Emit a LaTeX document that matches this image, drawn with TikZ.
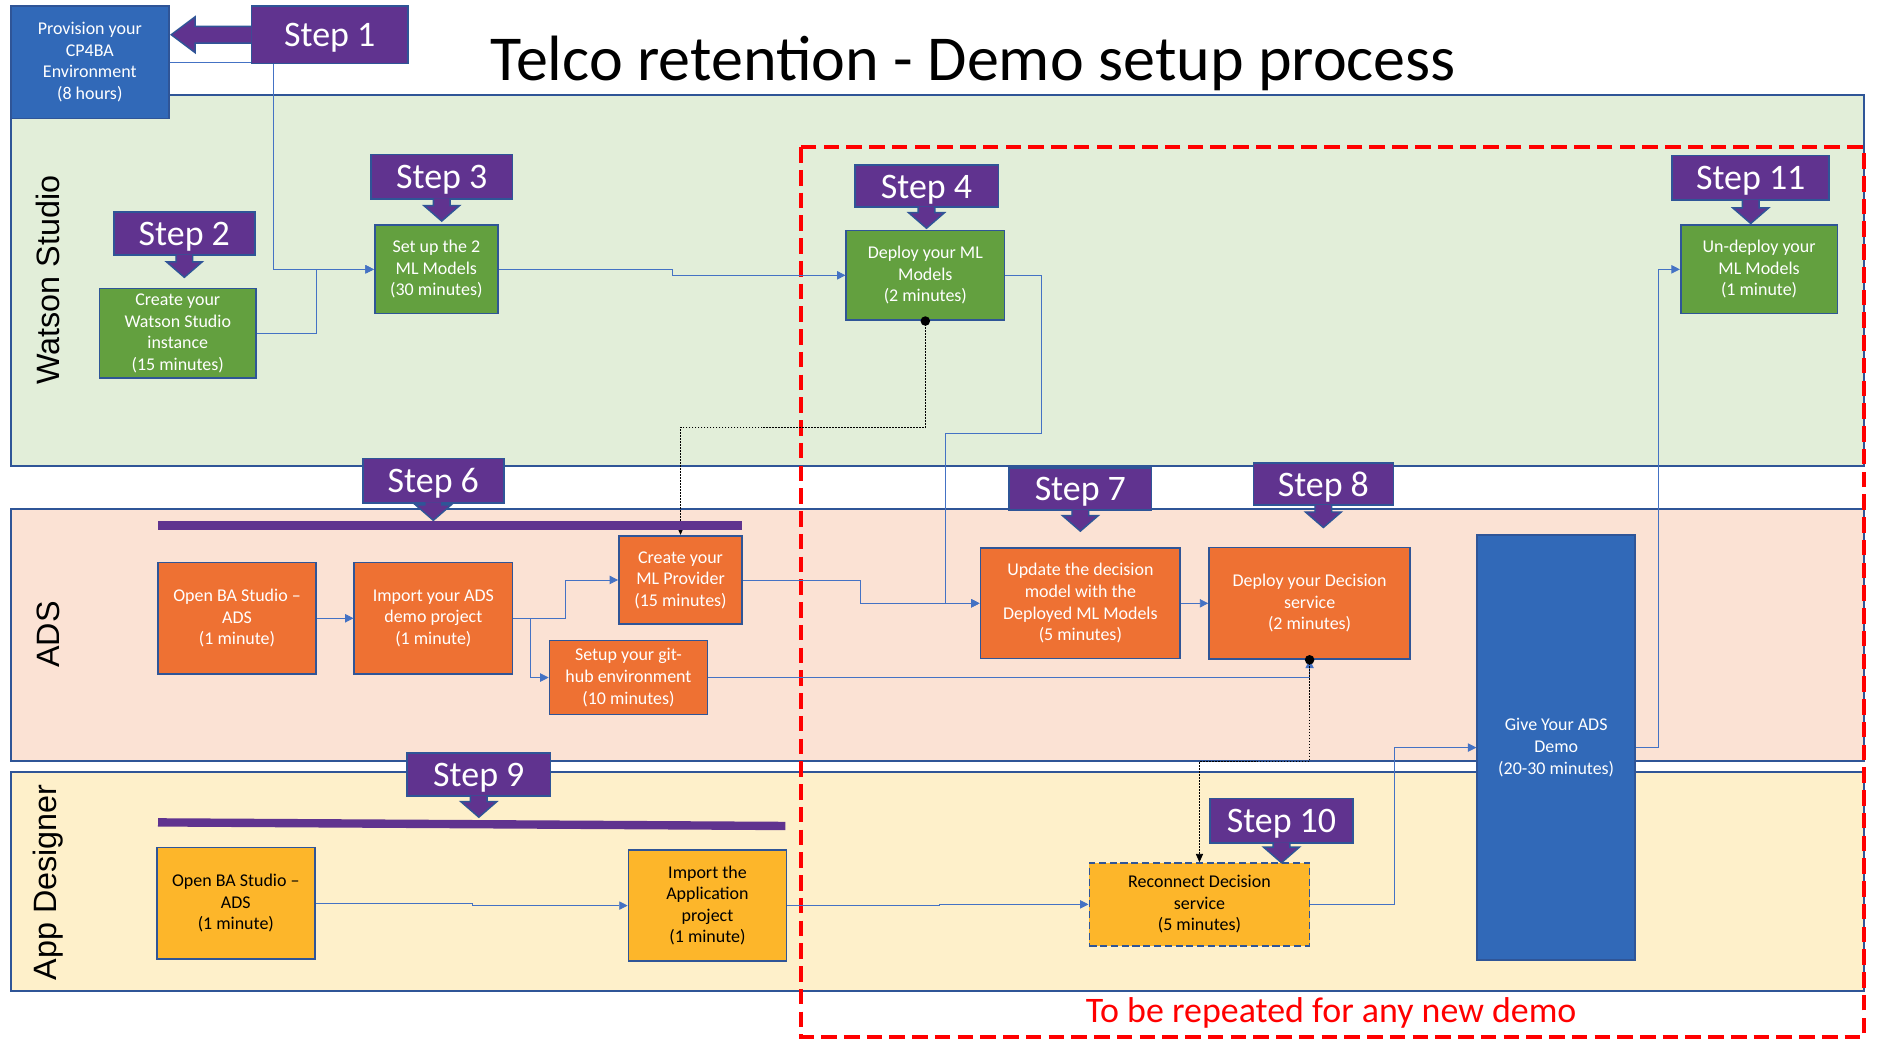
\documentclass[tikz,border=0pt]{standalone}
\usepackage{fontspec}
\setmainfont{Carlito}
\newfontfamily\lanefont{Liberation Sans}
\usetikzlibrary{arrows.meta,calc}
\definecolor{bord}{HTML}{2F5597}
\definecolor{purp}{HTML}{60338F}
\definecolor{gfill}{HTML}{63A03F}
\definecolor{ofill}{HTML}{EE7133}
\definecolor{yfill}{HTML}{FDB62A}
\definecolor{bfill}{HTML}{3169B8}
\definecolor{lgreen}{HTML}{E2EED9}
\definecolor{lpeach}{HTML}{FBE2D4}
\definecolor{lyellow}{HTML}{FEF0CA}
\definecolor{cblue}{HTML}{4472C4}
\definecolor{rred}{HTML}{FF0000}
\newcommand{\stepdn}[2]{%
  \draw[steparr] ($(#1.south)+(-7,-1)$) -- ++(0,{#2-13}) -- ++(-8,0) -- ++(15,13) -- ++(15,-13) -- ++(-8,0) -- ++(0,{-(#2-13)});}
\begin{document}
\begin{tikzpicture}[x=1pt,y=-1pt,
  lane/.style={draw=bord, line width=1.6pt},
  lanelabel/.style={font=\lanefont\fontsize{27}{27}\selectfont, rotate=90, inner sep=0pt},
  box/.style={draw=bord, line width=1.4pt, align=center, inner sep=2pt, font=\fontsize{15}{18}\selectfont},
  gbox/.style={box, fill=gfill, text=white},
  obox/.style={box, fill=ofill, text=white},
  ybox/.style={box, fill=yfill, text=black},
  bbox/.style={box, fill=bfill, text=white},
  stepbox/.style={draw=bord, line width=1.4pt, fill=purp, text=white, font=\fontsize{30}{30}\selectfont, inner sep=0pt, text height=21pt, text depth=1pt},
  steparr/.style={fill=purp, draw=bord, line width=1.2pt, line join=miter},
  conn/.style={draw=cblue, line width=0.7pt, -{Triangle[length=7pt,width=7pt]}},
  dotc/.style={draw=black, line width=0.7pt, dash pattern=on 1.5pt off 1pt, -{Triangle[length=7pt,width=6pt]}},
  bar/.style={draw=purp, line width=7pt}
]
\useasboundingbox (0,0) rectangle (1568,874);
\fill[white] (0,0) rectangle (1568,874);

% lanes
\filldraw[lane, fill=lgreen] (9,79) rectangle (1557,389);
\filldraw[lane, fill=lpeach] (9,425) rectangle (1557,636);
\filldraw[lane, fill=lyellow] (9,645) rectangle (1557,828);
\node[lanelabel] (lws) at (40,234) {Watson Studio};
\node[lanelabel] (lads) at (40,530) {ADS};
\node[lanelabel] (lapp) at (40,737) {App Designer};

% red dashed region
\draw[rred, line width=3.5pt, dash pattern=on 13pt off 6pt] (669,123) rectangle (1557,866);
\node[text=rred, font=\fontsize{30}{30}\selectfont, inner sep=0pt] (rep) at (1112,846) {To be repeated for any new demo};

% title
\node[font=\fontsize{53.5}{54}\selectfont, inner sep=0pt] (title) at (813,53) {Telco retention - Demo setup process};

% boxes
\node[bbox, minimum width=132, minimum height=94] (prov) at (75,52) {Provision your\\CP4BA\\Environment\\(8 hours)};
\node[gbox, minimum width=131, minimum height=75] (cw) at (148.5,278.5) {Create your\\Watson Studio\\instance\\(15 minutes)};
\node[gbox, minimum width=103, minimum height=74] (su) at (364.5,225) {Set up the 2\\ML Models\\(30 minutes)};
\node[gbox, minimum width=132, minimum height=75] (dml) at (773,230) {Deploy your ML\\Models\\(2 minutes)};
\node[gbox, minimum width=131, minimum height=74] (und) at (1469.5,225) {Un-deploy your\\ML Models\\(1 minute)};

\node[obox, minimum width=132, minimum height=93] (oba) at (198,516.5) {Open BA Studio --\\ADS\\(1 minute)};
\node[obox, minimum width=132, minimum height=93] (iads) at (362,516.5) {Import your ADS\\demo project\\(1 minute)};
\node[obox, minimum width=103, minimum height=74] (mlp) at (568.5,484.5) {Create your\\ML Provider\\(15 minutes)};
\node[obox, minimum width=132, minimum height=62] (gh) at (525,566) {Setup your git-\\hub environment\\(10 minutes)};
\node[obox, minimum width=167, minimum height=92] (upd) at (902.5,504) {Update the decision\\model with the\\Deployed ML Models\\(5 minutes)};
\node[obox, minimum width=168, minimum height=93] (dds) at (1094,504) {Deploy your Decision\\service\\(2 minutes)};
\node[bbox, minimum width=132, minimum height=355] (gd) at (1300,624.5) {Give Your ADS\\Demo\\(20-30 minutes)};

\node[ybox, minimum width=132, minimum height=93] (obapp) at (197,754.5) {Open BA Studio --\\ADS\\(1 minute)};
\node[ybox, minimum width=132, minimum height=93] (iapp) at (591,756.5) {Import the\\Application\\project\\(1 minute)};
\node[ybox, minimum width=184, minimum height=69, dash pattern=on 6pt off 3pt] (rec) at (1002,755.5) {Reconnect Decision\\service\\(5 minutes)};

% connectors
\draw[conn] (prov.east) -- (228,52) -- (228,225) -- (su.west);
\draw[conn] (cw.east) -| (264,225) -- (su.west);
\draw[conn] (su.east) -- (562,225) |- (dml.west);
\draw[conn] (dml.east) -- (870,230) -- (870,362) -- (790,362) |- (upd.west);
\draw[conn] (mlp.east) -- (719,484.5) |- (upd.west);
\draw[conn] (oba.east) -- (iads.west);
\draw[conn] (iads.east) -- (472,516.5) |- (mlp.west);
\draw[conn] (443,516.5) |- (gh.west);
\draw[conn] (gh.east) -| (dds.south);
\draw[conn] (upd.east) -- (dds.west);
\draw[conn] (obapp.east) -- (395,754.5) |- (iapp.west);
\draw[conn] (iapp.east) -- (785,756.5) |- (rec.west);
\draw[conn] (rec.east) -- (1165,755.5) |- (gd.west);
\draw[conn] (gd.east) -- (1385,624.5) |- (und.west);
\draw[dotc] (dml.south) -- (773,357) -| (mlp.north);
\draw[dotc] (dds.south) -- (1094,636) -| (rec.north);
\fill[black] (dml.south) circle (4);
\fill[black] (dds.south) circle (4);

% purple bars
\draw[bar] (132,439) -- (620,439);
\draw[bar] (132,687) -- (656,690);

% step labels
\node[stepbox, minimum width=131, minimum height=48] (s1) at (275.5,29) {Step 1};
\draw[steparr] (210,22) -- ++(-47,0) -- ++(0,-8) -- ++(-20,15) -- ++(20,15) -- ++(0,-8) -- ++(47,0);
\node[stepbox, minimum width=118, minimum height=36] (s2) at (154,195) {Step 2};
\node[stepbox, minimum width=118, minimum height=37] (s3) at (369,147.5) {Step 3};
\node[stepbox, minimum width=120, minimum height=35] (s4) at (774,155.5) {Step 4};
\node[stepbox, minimum width=131, minimum height=37] (s11) at (1462.5,148.5) {Step 11};
\node[stepbox, minimum width=118, minimum height=37] (s6) at (362,401.5) {Step 6};
\node[stepbox, minimum width=119, minimum height=35] (s7) at (902.5,408.5) {Step 7};
\node[stepbox, minimum width=117, minimum height=35] (s8) at (1105.5,404.5) {Step 8};
\node[stepbox, minimum width=120, minimum height=36] (s9) at (400,647) {Step 9};
\node[stepbox, minimum width=119, minimum height=37] (s10) at (1070.5,685.5) {Step 10};
\stepdn{s2}{19}
\stepdn{s3}{19}
\stepdn{s4}{18}
\stepdn{s11}{20}
\stepdn{s6}{15}
\stepdn{s7}{18}
\stepdn{s8}{19}
\stepdn{s9}{18}
\stepdn{s10}{17}
\end{tikzpicture}
\end{document}
